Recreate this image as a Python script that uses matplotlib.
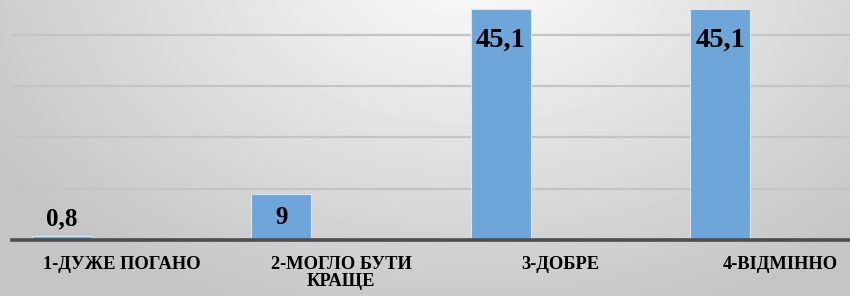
import numpy as np
import matplotlib.pyplot as plt

categories = ["1-ДУЖЕ ПОГАНО", "2-МОГЛО БУТИ\nКРАЩЕ", "3-ДОБРЕ", "4-ВІДМІННО"]
values = [0.8, 9, 45.1, 45.1]
value_labels = ["0,8", "9", "45,1", "45,1"]

plt.rcParams["font.family"] = ["Liberation Serif", "DejaVu Serif"]

fig = plt.figure(figsize=(8.5, 2.96), dpi=100)

# radial grey background, lightest at the top centre
bg = fig.add_axes([0, 0, 1, 1])
yy, xx = np.mgrid[0:296, 0:850]
r = np.sqrt(((xx - 470) / 560.0) ** 2 + ((yy + 40) / 380.0) ** 2)
shade = np.clip(0.99 - 0.22 * r, 0.77, 0.99)
bg.imshow(shade, cmap="gray", vmin=0, vmax=1, aspect="auto", extent=[0, 850, 296, 0])
bg.axis("off")

# axes runs past the right edge of the picture, as in the reference
x0, x1 = 12, 890
y_base = 240
px_per_unit = 5.13
ax = fig.add_axes([x0 / 850, (296 - y_base) / 296, (x1 - x0) / 850, y_base / 296])
ax.patch.set_alpha(0)

x = np.arange(len(categories))
bars = ax.bar(x - 0.273, values, width=0.273, color="#6fa6da", edgecolor="#d6e6f5", linewidth=0.8, zorder=3)

ax.set_xlim(-0.5, len(categories) - 0.5)
ax.set_ylim(0, y_base / px_per_unit)
ax.set_yticks([10, 20, 30, 40])
ax.yaxis.grid(True, color="#c4c4c4", linewidth=1.6, zorder=0)
ax.tick_params(left=False, labelleft=False, bottom=False, pad=8)
for s in ["left", "right", "top"]:
    ax.spines[s].set_visible(False)
ax.spines["bottom"].set_color("#4d4d4d")
ax.spines["bottom"].set_linewidth(2.6)
ax.spines["bottom"].set_zorder(4)

ax.set_xticks(x)
ax.set_xticklabels(categories, fontsize=13.3, fontweight="bold", linespacing=1.0, va="top")

for b, v, lab in zip(bars, values, value_labels):
    cx = b.get_x() + b.get_width() / 2
    if v < 3:
        ax.annotate(lab, (cx, v), xytext=(0, 11), textcoords="offset pixels",
                    ha="center", va="baseline", fontsize=18, fontweight="bold", zorder=5)
    elif v < 20:
        ax.annotate(lab, (cx, v), xytext=(0, -30), textcoords="offset pixels",
                    ha="center", va="baseline", fontsize=18, fontweight="bold", zorder=5)
    else:
        ax.annotate(lab, (cx, v), xytext=(0, -38), textcoords="offset pixels",
                    ha="center", va="baseline", fontsize=20.5, fontweight="bold", zorder=5)

fig.savefig("out.png", dpi=100)
